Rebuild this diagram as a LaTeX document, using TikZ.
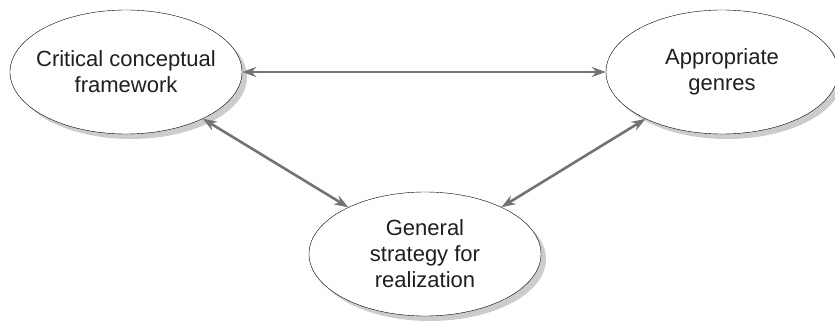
\documentclass[tikz,border=0pt]{standalone}
\usepackage{fontspec}
\setmainfont{Liberation Sans}
\usetikzlibrary{shapes.geometric,shadows,arrows.meta}

\begin{document}
\begin{tikzpicture}[x=1pt,y=-1pt,
    idea/.style={ellipse,draw,thin,fill=white,minimum width=232pt,minimum height=124pt,
        inner sep=-40pt,align=center,font=\fontsize{22}{26}\selectfont,text=black!88,
        drop shadow={shadow xshift=5pt,shadow yshift=-5pt,fill=black!20,opacity=1}},
    link/.style={{Stealth[length=14pt,width=10pt]}-{Stealth[length=14pt,width=10pt]},
        line width=2.6pt,draw=black!55}]
    \useasboundingbox (0,0) rectangle (835,323);
    \node[idea] (frame) at (126,72) {Critical conceptual\\framework};
    \node[idea] (genre) at (722,72) {Appropriate\\genres};
    \node[idea] (strat) at (425,254) {General\\strategy for\\realization};
    \draw[link] (frame) -- (genre);
    \draw[link] (frame) -- (strat);
    \draw[link] (strat) -- (genre);
\end{tikzpicture}
\end{document}
